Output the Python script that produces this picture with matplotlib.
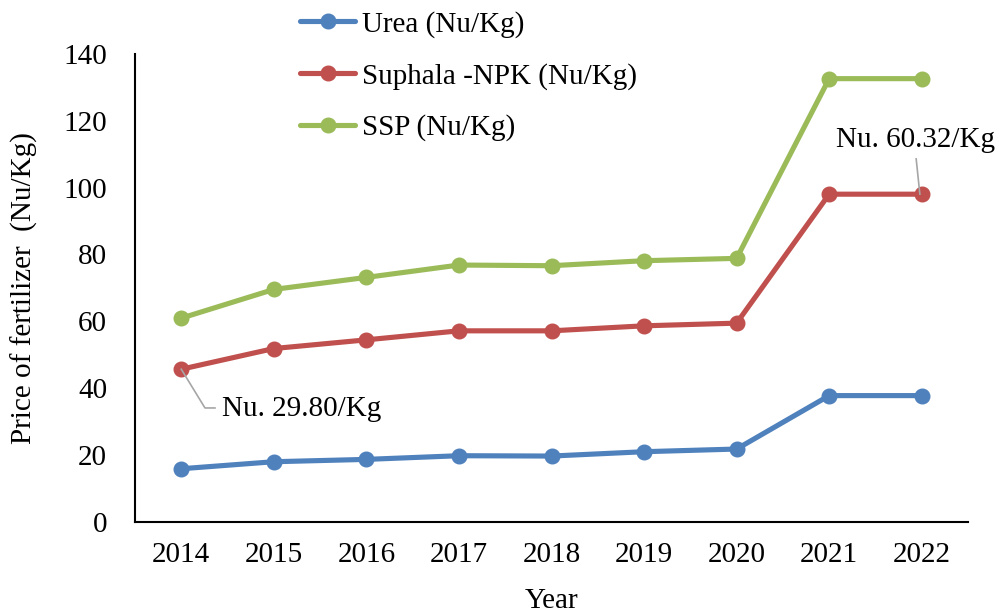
import matplotlib
matplotlib.use("Agg")
import matplotlib.pyplot as plt
import numpy as np

years = ["2014", "2015", "2016", "2017", "2018", "2019", "2020", "2021", "2022"]
urea = [15.8, 17.9, 18.6, 19.7, 19.6, 20.9, 21.7, 37.7, 37.7]
suphala = [29.8, 33.9, 35.8, 37.4, 37.5, 37.7, 37.7, 60.32, 60.32]
ssp = [15.3, 17.7, 18.7, 19.7, 19.5, 19.5, 19.4, 34.6, 34.6]
series_names = ["Urea (Nu/Kg)", "Suphala -NPK (Nu/Kg)", "SSP (Nu/Kg)"]
colors = ["#4F81BD", "#C0504D", "#9BBB59"]

plt.rcParams['font.family'] = ['Liberation Serif', 'DejaVu Serif']
fs = 21

fig = plt.figure(figsize=(9.99, 6.13), dpi=100)
ax = fig.add_axes([135/999, (613-521.5)/613, (968-135)/999, (521.5-54)/613])

x = np.arange(len(years))
stack = np.cumsum(np.array([urea, suphala, ssp]), axis=0)
lines = []
for i in range(3):
    ln, = ax.plot(x, stack[i], color=colors[i], lw=3.7, marker='o', markersize=10.5,
                  solid_capstyle='round', label=series_names[i], zorder=3)
    lines.append(ln)

ax.set_xlim(-0.5, len(years) - 0.5)
ax.set_ylim(0, 140)
ax.set_yticks(np.arange(0, 141, 20))
ax.set_xticks(x)
ax.set_xticklabels(years)
ax.tick_params(axis='both', length=0, labelsize=fs)
ax.tick_params(axis='y', pad=20)
ax.tick_params(axis='x', pad=15)
for s in ['top', 'right']:
    ax.spines[s].set_visible(False)
for s in ['left', 'bottom']:
    ax.spines[s].set_linewidth(1.5)
ax.set_ylabel("Price of fertilizer  (Nu/Kg)", fontsize=fs, labelpad=18)
ax.set_xlabel("Year", fontsize=fs, labelpad=14)

# annotations
gray = "#A6A6A6"
ax.plot([0, 0.256, 0.364], [stack[1][0], 34.0, 34.0], color=gray, lw=1.2, zorder=4)
ax.text(0.44, 33.6, "Nu. %.2f/Kg" % suphala[0], fontsize=fs, ha='left', va='center')
ax.plot([7.98, 7.94], [stack[1][8], 108.6], color=gray, lw=1.2, zorder=4)
ax.text(7.93, 114.3, "Nu. %.2f/Kg" % suphala[8], fontsize=fs, ha='center', va='center')

leg = fig.legend(handles=lines, loc='upper left', bbox_to_anchor=(300/999, 1 - 11/613),
                 frameon=False, fontsize=fs, handlelength=1.9, handletextpad=0.24,
                 labelspacing=0.85, borderaxespad=0, borderpad=0)

fig.savefig("out.png", dpi=100)
